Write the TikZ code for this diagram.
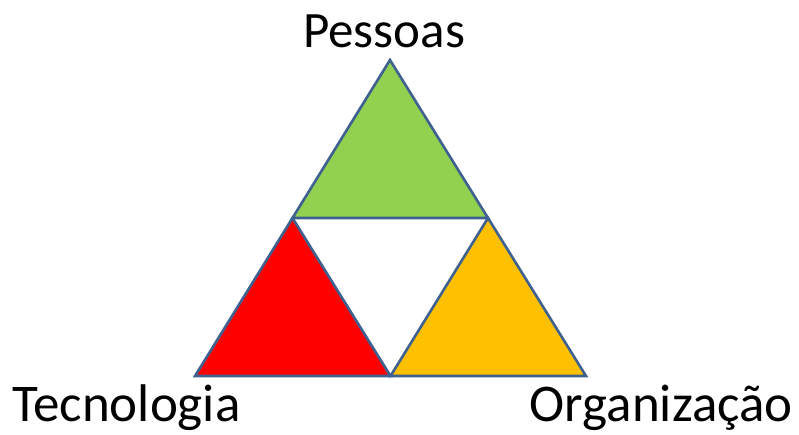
\documentclass[tikz,border=0pt]{standalone}
\usepackage{fontspec}
\setmainfont{Carlito}
\definecolor{trigreen}{HTML}{92D050}
\definecolor{trired}{HTML}{FF0000}
\definecolor{triorange}{HTML}{FFC000}
\definecolor{triedge}{HTML}{3F618F}
\usetikzlibrary{calc}

\begin{document}
\begin{tikzpicture}[x=1pt, y=-1pt,
    part/.style={draw=triedge, line width=2.6pt, line join=miter},
    label/.style={font=\fontsize{51}{60}\selectfont, inner sep=0pt},
    biglabel/.style={font=\fontsize{53}{62}\selectfont, inner sep=0pt}]
    \useasboundingbox (0,0) rectangle (799,434);
    % Corners of the big triangle
    \coordinate (top) at (390,60);
    \coordinate (left) at (195,376);
    \coordinate (right) at (586,376);
    \coordinate (midL) at ($(top)!0.5!(left)$);
    \coordinate (midR) at ($(top)!0.5!(right)$);
    \coordinate (midB) at ($(left)!0.5!(right)$);
    % Three coloured parts
    \draw[part, fill=trigreen] (top) -- (midL) -- (midR) -- cycle;
    \draw[part, fill=trired] (midL) -- (left) -- (midB) -- cycle;
    \draw[part, fill=triorange] (midR) -- (midB) -- (right) -- cycle;
    % Labels
    \node[label, anchor=base] (pessoas) at (384,47) {Pessoas};
    \node[biglabel, anchor=base west] (tecnologia) at (12,421) {Tecnologia};
    \node[biglabel, anchor=base east] (organizacao) at (793,421) {Organização};
\end{tikzpicture}
\end{document}
